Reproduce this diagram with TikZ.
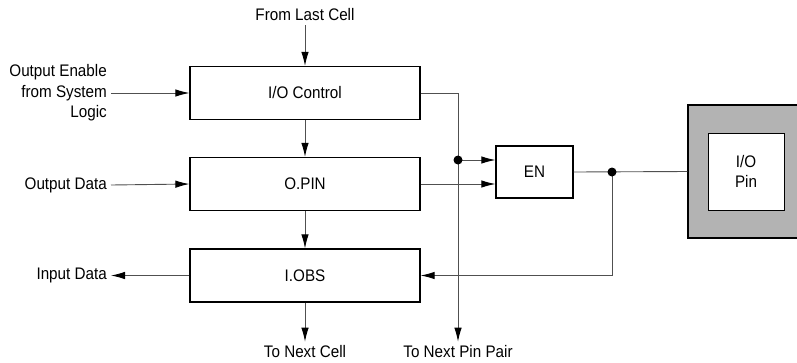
\documentclass[tikz,border=0pt]{standalone}
\usepackage{fontspec}
\setmainfont{Liberation Sans}[FakeStretch=0.91]
\definecolor{wiregray}{HTML}{505050}
\definecolor{padgray}{HTML}{B3B3B3}
\usetikzlibrary{arrows.meta, positioning, calc}

\begin{document}
\begin{tikzpicture}[x=1bp, y=-1bp, every node/.style={font=\fontsize{16.8}{20.5}\selectfont}]
        \tikzset{cellbox/.style={draw, line width=1.3bp, fill=white,
                 minimum width=230bp, minimum height=53bp},
                 wire/.style={draw=wiregray, line width=0.9bp},
                 sig/.style={wire, -{Latex[length=14bp, width=7.5bp, color=black]}},
                 lbl/.style={inner sep=4bp}}
        \clip (0,0) rectangle (797,362);

        \node[cellbox]              (ctrl) at (305, 93)    {I/O Control};
        \node[cellbox]              (opin) at (305, 184)   {O.PIN};
        \node[cellbox]              (iobs) at (305, 275.5) {I.OBS};
        \node[cellbox, minimum width=77bp, minimum height=52bp] (en) at (534.5, 172) {EN};

        \node[draw, line width=1.3bp, fill=padgray, minimum width=128bp,
              minimum height=133bp] (pad) at (752, 171.5) {};
        \node[draw, line width=1bp, fill=white, minimum width=76bp,
              minimum height=77bp, align=center] (pin) at (746, 171.5) {I/O\\Pin};

        \node[lbl]                      (lastcell) at (305, 15)  {From Last Cell};
        \node[lbl, anchor=east, align=right] (oe)  at (111, 93)  {Output Enable\\from System\\Logic};
        \node[lbl, anchor=east]         (odata)    at (111, 185) {Output Data};
        \node[lbl, anchor=east]         (idata)    at (111, 275.5) {Input Data};
        \node[lbl]                      (nextcell) at (305, 352) {To Next Cell};
        \node[lbl]                      (nextpair) at (458, 352) {To Next Pin Pair};

        \coordinate (tap)  at (458, 160);
        \coordinate (fork) at (612, 172);

        \draw[sig] (lastcell.south) -- (ctrl.north);
        \draw[sig] (oe.east |- ctrl.west) -- (ctrl.west);
        \draw[sig] (ctrl.south) -- (opin.north);
        \draw[sig] (odata.east) -- (opin.west);
        \draw[sig] (opin.south) -- (iobs.north);
        \draw[sig] (iobs.west) -- (idata.east);
        \draw[sig] (iobs.south) -- (nextcell.north);

        \draw[sig] (ctrl.east) -| (nextpair.north);
        \draw[sig] (tap) -- (tap -| en.west);
        \draw[sig] (opin.east) -- (opin.east -| en.west);
        \draw[wire] (en.east) -- (pad.west);
        \draw[sig] (fork) |- (iobs.east);
        \fill (tap) circle (4.5bp);
        \fill (fork) circle (4.5bp);
      \end{tikzpicture}
\end{document}
